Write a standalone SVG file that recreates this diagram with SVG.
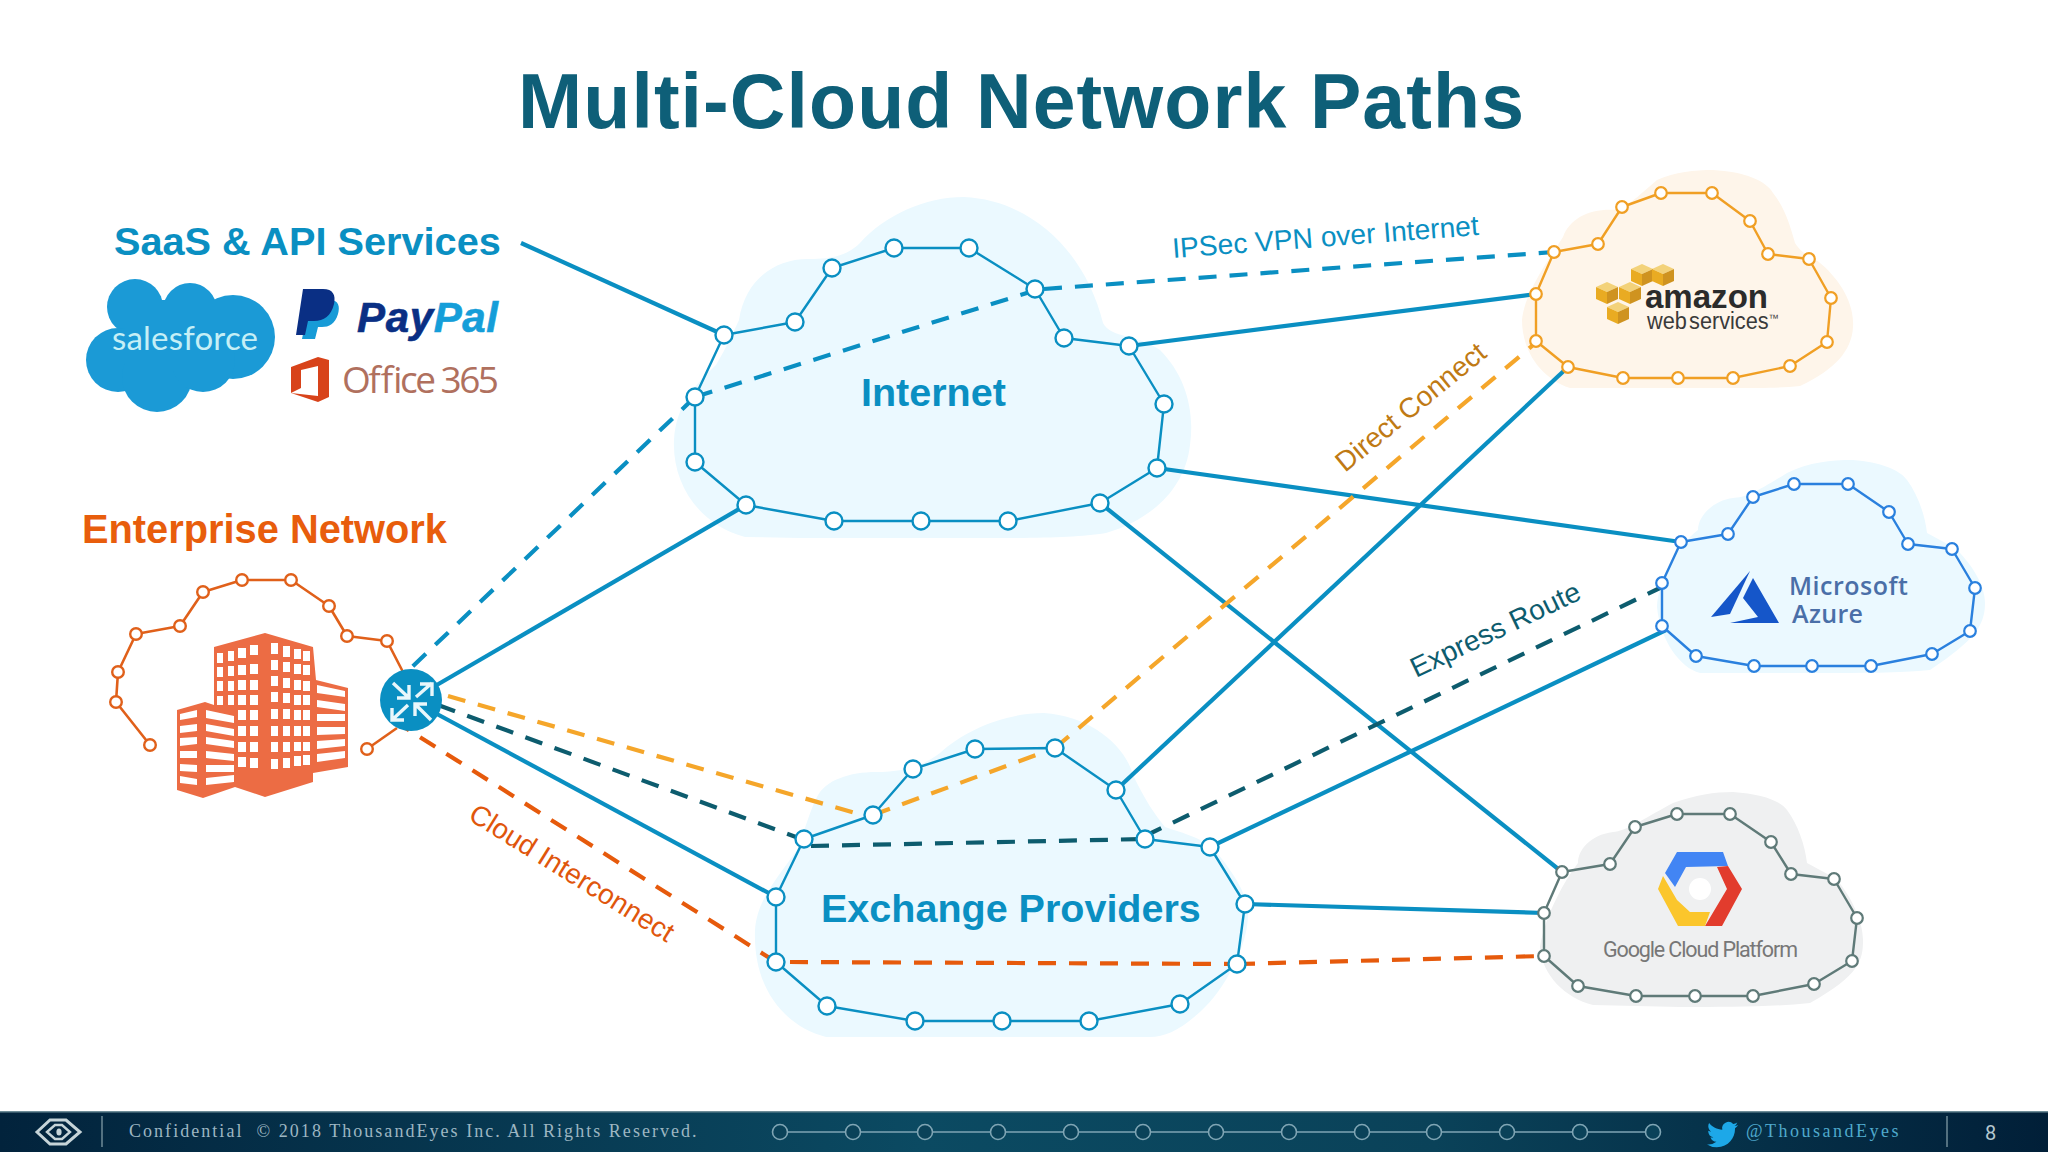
<svg xmlns="http://www.w3.org/2000/svg" width="2048" height="1152" viewBox="0 0 2048 1152">
<defs>
<style>
text{font-family:"Liberation Sans",Arial,sans-serif}
.b{font-weight:700}
.blue{fill:#0a8fc2}
.ring{fill:none;stroke-linejoin:round}
.c{fill:#fff}
.s{fill:none;stroke:#0a8fc2;stroke-width:4.2}
.d{fill:none;stroke-width:4.2;stroke-dasharray:18 13}
.db{stroke:#0a8fc2}.dt{stroke:#0d5c6e}.do{stroke:#f5a62a}.dr{stroke:#e65a0c}
.w{fill:#fff}
.arrow{fill:none;stroke:#e9f7fb;stroke-width:3.4}
.foot{font-family:"Liberation Serif",serif;font-size:18px;fill:#9db6c2;letter-spacing:1.4px}
.fn{fill:none;stroke:#7fa5b4;stroke-width:1.6}
</style>
<linearGradient id="fg" x1="0" x2="1" y1="0" y2="0">
<stop offset="0" stop-color="#02233c"/><stop offset=".45" stop-color="#0b4a62"/><stop offset=".7" stop-color="#0a4259"/><stop offset="1" stop-color="#011f38"/>
</linearGradient>
<g id="cube"><polygon points="-11,-6 0,-11 11,-6 0,-1" fill="#f3d27a"/><polygon points="-11,-6 0,-1 0,11 -11,6" fill="#e9ab22"/><polygon points="0,-1 11,-6 11,6 0,11" fill="#cf9320"/></g>
</defs>
<rect width="2048" height="1152" fill="#fff"/>

<g id="title"><text x="518" y="128" class="b" font-size="77" fill="#0e5f78" textLength="1006">Multi-Cloud Network Paths</text></g>

<g id="cloud-fills">
<path fill="#ebf9ff" d="M745 537C700 525 672 485 674 440C676 405 695 385 716 365C722 355 730 340 739 320C745 280 775 258 810 259C825 259 845 258 860 243C885 215 925 197 964 197C1030 200 1085 250 1103 323C1110 338 1140 335 1160 350C1185 375 1195 410 1190 445C1185 490 1150 520 1106 533C1080 537 1050 538 1000 538L800 538Z"/>
<path fill="#ebf9ff" d="M826 1037C781 1025 753 985 755 930C757 900 776 880 797 850C805 830 810 810 817 797C825 780 850 772 876 772C900 772 920 768 940 753C965 730 1005 713 1044 713C1090 716 1125 745 1133 775C1145 800 1155 815 1165 827C1190 835 1205 840 1215 850C1235 875 1248 895 1248 915C1248 945 1225 990 1200 1012C1180 1030 1165 1037 1150 1037Z"/>
<path fill="#fef5ea" d="M1570 388C1540 378 1522 350 1522 320C1524 295 1545 265 1563 237C1570 218 1590 208 1617 210C1630 205 1645 190 1657 180C1675 172 1695 170 1713 170C1745 172 1765 180 1773 193C1785 208 1790 225 1795 243C1805 258 1815 258 1820 263C1835 275 1855 300 1853 327C1852 350 1835 370 1800 386C1780 388 1760 388 1730 388Z"/>
<path fill="#ebf9ff" d="M1700 673C1680 668 1660 640 1657 607C1658 580 1678 545 1698 530C1698 515 1715 500 1733 498C1745 498 1760 490 1787 473C1810 462 1830 460 1853 460C1880 462 1900 470 1907 480C1918 495 1925 515 1927 533C1940 540 1950 545 1957 550C1972 565 1985 585 1985 603C1985 625 1975 640 1930 670C1900 673 1860 673 1820 673Z"/>
<path fill="#eff0f1" d="M1593 1005C1565 998 1542 975 1540 947C1545 915 1565 880 1578 863C1578 850 1590 835 1613 832C1625 832 1650 815 1673 803C1695 795 1715 792 1733 792C1760 794 1780 800 1787 810C1798 825 1805 845 1807 863C1820 870 1830 875 1837 880C1850 895 1863 920 1863 940C1863 960 1860 975 1810 1003C1770 1007 1730 1007 1680 1007Z"/>
</g>

<g id="connectors">
<line class="s" x1="521" y1="243" x2="724" y2="335"/>
<line class="s" x1="411" y1="700" x2="746" y2="505"/>
<line class="s" x1="411" y1="700" x2="776" y2="897"/>
<line class="s" x1="1129" y1="346" x2="1536" y2="294"/>
<line class="s" x1="1157" y1="468" x2="1681" y2="542"/>
<line class="s" x1="1100" y1="503" x2="1562" y2="872"/>
<line class="s" x1="1116" y1="790" x2="1568" y2="367"/>
<line class="s" x1="1210" y1="847" x2="1666" y2="630"/>
<line class="s" x1="1245" y1="904" x2="1544" y2="913"/>
<path class="d db" d="M695 397L411 668"/>
<path class="d db" d="M695 397L1030 292"/>
<path class="d db" d="M1044 289L1554 252"/>
<path class="d do" d="M448 696L873 818"/>
<path class="d do" d="M873 815L1055 748"/>
<path class="d do" d="M1055 748L1532 346"/>
<path class="d dt" d="M804 840L430 702"/>
<path class="d dt" d="M811 846L1145 839"/>
<path class="d dt" d="M1145 836L1662 587"/>
<path class="d dr" d="M776 962L404 727"/>
<path class="d dr" d="M790 962L1237 964"/>
<path class="d dr" d="M1237 964L1544 956"/>
</g>

<g id="saas">
<text x="114" y="255" class="b blue" font-size="39.7">SaaS &amp; API Services</text>
<g id="salesforce">
<g fill="#1b9ad6"><circle cx="135" cy="307" r="28"/><circle cx="190" cy="310" r="27"/><circle cx="233" cy="337" r="42"/><circle cx="118" cy="360" r="32"/><circle cx="157" cy="377" r="35"/><circle cx="203" cy="360" r="32"/><rect x="125" y="300" width="100" height="70"/></g>
<text x="112" y="350" font-size="33" fill="#c5eff6" textLength="146" style="font-family:Lato,sans-serif">salesforce</text>
</g>
<g id="paypal">
<path fill="#179bd7" d="M310 300h20c9 0 10 7 8 14c-3 10-9 13-16 13h-4l-3 12h-13z"/>
<path fill="#0a2f84" d="M303 289h20c10 0 13 6 11 15c-3 12-10 17-20 17h-6l-3 14h-9z"/>
<text x="357" y="332" class="b" font-size="42" font-style="italic" textLength="141" stroke="#0a2f84" stroke-width=".6"><tspan fill="#0a2f84">Pay</tspan><tspan fill="#159ed9" stroke="#159ed9">Pal</tspan></text>
</g>
<g id="office365">
<path fill="#d8431a" d="M291 367L318 357L329 360V397L318 402L291 393L318 396V366L301 370V388L291 393Z"/>
<text x="342" y="393" font-size="37" fill="#b0705e" textLength="157" style="font-family:'Open Sans',sans-serif">Office 365</text>
</g>
</g>

<g id="enterprise">
<text x="82" y="543" class="b" font-size="39.8" fill="#e85d0c">Enterprise Network</text>
<polyline class="ring" stroke="#e0601a" stroke-width="2.6" points="150,745 116,702 118,672 136,634 180,626 203,592 242,580 291,580 329,606 347,636 387,641 403,672"/>
<line x1="367" y1="749" x2="397" y2="728" stroke="#e0601a" stroke-width="2.6"/>
<g class="c" stroke="#e0601a" stroke-width="2.4"><circle cx="150" cy="745" r="5.8"/><circle cx="116" cy="702" r="5.8"/><circle cx="118" cy="672" r="5.8"/><circle cx="136" cy="634" r="5.8"/><circle cx="180" cy="626" r="5.8"/><circle cx="203" cy="592" r="5.8"/><circle cx="242" cy="580" r="5.8"/><circle cx="291" cy="580" r="5.8"/><circle cx="329" cy="606" r="5.8"/><circle cx="347" cy="636" r="5.8"/><circle cx="387" cy="641" r="5.8"/><circle cx="367" cy="749" r="5.8"/></g>
<g id="building">
<polygon fill="#ec6c44" points="214,647 265,633 313,647 316,680 348,688 348,767 313,773 313,782 265,797 235,787 203,798 177,790 177,710 205,702 214,705"/>
<path class="w" d="M217 653h6v10h-6zM228 651h6v10h-6zM238 648h8v10h-8zM250 645h8v10h-8zM217 667h6v10h-6zM228 666h6v10h-6zM238 665h8v10h-8zM250 664h8v10h-8zM217 681h6v10h-6zM228 681h6v10h-6zM238 680h8v10h-8zM250 680h8v10h-8zM217 696h6v9h-6zM228 695h6v10h-6zM238 695h8v10h-8zM250 695h8v10h-8zM238 710h8v10h-8zM250 710h8v10h-8zM238 726h8v10h-8zM250 726h8v10h-8zM238 742h8v10h-8zM250 742h8v10h-8zM238 757h8v10h-8zM250 758h8v10h-8zM271 643h7v11h-7zM283 646h7v11h-7zM294 649h7v10h-7zM303 651h7v10h-7zM271 660h7v10h-7zM283 662h7v10h-7zM294 664h7v10h-7zM303 665h7v10h-7zM271 676h7v10h-7zM283 678h7v10h-7zM294 680h7v10h-7zM303 681h7v10h-7zM271 692h7v10h-7zM283 693h7v10h-7zM294 695h7v10h-7zM303 695h7v10h-7zM271 709h7v10h-7zM283 709h7v10h-7zM294 710h7v10h-7zM303 710h7v10h-7zM271 726h7v10h-7zM283 726h7v10h-7zM294 726h7v10h-7zM303 726h7v10h-7zM271 742h7v10h-7zM283 742h7v10h-7zM294 742h7v9h-7zM303 742h7v9h-7zM271 759h7v10h-7zM283 758h7v10h-7zM294 756h7v10h-7zM303 755h7v10h-7z"/>
<path class="w" d="M317 685L345 691V697L317 693ZM317 700L345 704V711L317 707ZM317 714H345V721H317ZM317 727H345V734L317 735ZM317 741L345 739V746L317 749ZM317 754L345 751V758L317 762Z"/>
<path class="w" d="M180 714L197 710V717L180 720ZM206 710L234 716V723L206 718ZM180 726L197 724V731L180 733ZM206 724L234 729V736L206 731ZM180 738L197 737V744L180 746ZM206 737L234 741V748L206 744ZM180 751H197V758H180ZM206 751L234 754V761L206 758ZM180 764L197 765V772L180 771ZM206 765H234V772L206 772ZM180 776L197 779V785L180 783ZM206 778L234 775V782L206 785Z"/>
</g>
</g>

<g id="router">
<circle cx="411" cy="700" r="31" fill="#0a8fc2"/>
<path class="arrow" d="M393 683L409 698M397 698H409V685"/>
<path class="arrow" d="M416 697L432 683M420 684H432V696"/>
<path class="arrow" d="M408 705L392 720M392 708V720H404"/>
<path class="arrow" d="M431 720L415 704M415 716V704H427"/>
</g>

<g id="internet">
<polygon class="ring" stroke="#0a8fc2" stroke-width="2.4" points="724,335 795,322 832,268 894,248 969,248 1035,289 1064,338 1129,346 1164,404 1157,468 1100,503 1008,521 921,521 834,521 746,505 695,462 695,397"/>
<g class="c" stroke="#0a8fc2" stroke-width="2.4"><circle cx="724" cy="335" r="8.5"/><circle cx="795" cy="322" r="8.5"/><circle cx="832" cy="268" r="8.5"/><circle cx="894" cy="248" r="8.5"/><circle cx="969" cy="248" r="8.5"/><circle cx="1035" cy="289" r="8.5"/><circle cx="1064" cy="338" r="8.5"/><circle cx="1129" cy="346" r="8.5"/><circle cx="1164" cy="404" r="8.5"/><circle cx="1157" cy="468" r="8.5"/><circle cx="1100" cy="503" r="8.5"/><circle cx="1008" cy="521" r="8.5"/><circle cx="921" cy="521" r="8.5"/><circle cx="834" cy="521" r="8.5"/><circle cx="746" cy="505" r="8.5"/><circle cx="695" cy="462" r="8.5"/><circle cx="695" cy="397" r="8.5"/></g>
<text x="861" y="406" class="b blue" font-size="39.5">Internet</text>
</g>

<g id="exchange">
<polygon class="ring" stroke="#0a8fc2" stroke-width="2.4" points="804,839 873,815 913,769 975,749 1055,748 1116,790 1145,839 1210,847 1245,904 1237,964 1180,1004 1089,1021 1002,1021 915,1021 827,1006 776,962 776,897"/>
<g class="c" stroke="#0a8fc2" stroke-width="2.4"><circle cx="804" cy="839" r="8.5"/><circle cx="873" cy="815" r="8.5"/><circle cx="913" cy="769" r="8.5"/><circle cx="975" cy="749" r="8.5"/><circle cx="1055" cy="748" r="8.5"/><circle cx="1116" cy="790" r="8.5"/><circle cx="1145" cy="839" r="8.5"/><circle cx="1210" cy="847" r="8.5"/><circle cx="1245" cy="904" r="8.5"/><circle cx="1237" cy="964" r="8.5"/><circle cx="1180" cy="1004" r="8.5"/><circle cx="1089" cy="1021" r="8.5"/><circle cx="1002" cy="1021" r="8.5"/><circle cx="915" cy="1021" r="8.5"/><circle cx="827" cy="1006" r="8.5"/><circle cx="776" cy="962" r="8.5"/><circle cx="776" cy="897" r="8.5"/></g>
<text x="821" y="922" class="b blue" font-size="39.5">Exchange Providers</text>
</g>

<g id="aws">
<polygon class="ring" stroke="#f09f24" stroke-width="2.4" points="1554,252 1598,244 1622,207 1661,193 1712,193 1750,221 1768,254 1809,259 1831,298 1827,342 1790,366 1733,378 1678,378 1623,378 1568,367 1536,341 1536,294"/>
<g class="c" stroke="#f09f24" stroke-width="2.2"><circle cx="1554" cy="252" r="5.8"/><circle cx="1598" cy="244" r="5.8"/><circle cx="1622" cy="207" r="5.8"/><circle cx="1661" cy="193" r="5.8"/><circle cx="1712" cy="193" r="5.8"/><circle cx="1750" cy="221" r="5.8"/><circle cx="1768" cy="254" r="5.8"/><circle cx="1809" cy="259" r="5.8"/><circle cx="1831" cy="298" r="5.8"/><circle cx="1827" cy="342" r="5.8"/><circle cx="1790" cy="366" r="5.8"/><circle cx="1733" cy="378" r="5.8"/><circle cx="1678" cy="378" r="5.8"/><circle cx="1623" cy="378" r="5.8"/><circle cx="1568" cy="367" r="5.8"/><circle cx="1536" cy="341" r="5.8"/><circle cx="1536" cy="294" r="5.8"/></g>
<use href="#cube" x="1642" y="275"/><use href="#cube" x="1663" y="275"/><use href="#cube" x="1607" y="293"/><use href="#cube" x="1630" y="293"/><use href="#cube" x="1618" y="313"/>
<text x="1645" y="308" class="b" font-size="34" fill="#2b2b2b" textLength="123" lengthAdjust="spacingAndGlyphs">amazon</text>
<text x="1647" y="329" font-size="23" fill="#3a3a3a" textLength="132" lengthAdjust="spacingAndGlyphs" word-spacing="-4">web services<tspan font-size="11" dy="-7">™</tspan></text>
</g>

<g id="azure">
<polygon class="ring" stroke="#2a80de" stroke-width="2.4" points="1681,542 1728,534 1753,497 1794,484 1848,484 1889,512 1908,544 1952,549 1975,588 1970,631 1932,654 1871,666 1812,666 1754,666 1696,656 1662,626 1662,583"/>
<g class="c" stroke="#2a80de" stroke-width="2.2"><circle cx="1681" cy="542" r="5.8"/><circle cx="1728" cy="534" r="5.8"/><circle cx="1753" cy="497" r="5.8"/><circle cx="1794" cy="484" r="5.8"/><circle cx="1848" cy="484" r="5.8"/><circle cx="1889" cy="512" r="5.8"/><circle cx="1908" cy="544" r="5.8"/><circle cx="1952" cy="549" r="5.8"/><circle cx="1975" cy="588" r="5.8"/><circle cx="1970" cy="631" r="5.8"/><circle cx="1932" cy="654" r="5.8"/><circle cx="1871" cy="666" r="5.8"/><circle cx="1812" cy="666" r="5.8"/><circle cx="1754" cy="666" r="5.8"/><circle cx="1696" cy="656" r="5.8"/><circle cx="1662" cy="626" r="5.8"/><circle cx="1662" cy="583" r="5.8"/></g>
<polygon fill="#1556c9" points="1750,571 1711,617 1730,614"/>
<polygon fill="#1556c9" points="1753,578 1779,623 1730,623 1758,617 1743,598"/>
<text x="1789" y="595" font-size="25" font-weight="600" fill="#4a6fa8" textLength="119" style="font-family:'Open Sans',sans-serif">Microsoft</text>
<text x="1792" y="623" font-size="25" font-weight="600" fill="#4a6fa8" textLength="71" style="font-family:'Open Sans',sans-serif">Azure</text>
</g>

<g id="gcp">
<polygon class="ring" stroke="#5f7a78" stroke-width="2.4" points="1562,872 1610,864 1635,827 1677,814 1730,814 1771,842 1791,874 1834,879 1857,918 1852,961 1814,984 1753,996 1695,996 1636,996 1578,986 1544,956 1544,913"/>
<g class="c" stroke="#5f7a78" stroke-width="2.2"><circle cx="1562" cy="872" r="5.8"/><circle cx="1610" cy="864" r="5.8"/><circle cx="1635" cy="827" r="5.8"/><circle cx="1677" cy="814" r="5.8"/><circle cx="1730" cy="814" r="5.8"/><circle cx="1771" cy="842" r="5.8"/><circle cx="1791" cy="874" r="5.8"/><circle cx="1834" cy="879" r="5.8"/><circle cx="1857" cy="918" r="5.8"/><circle cx="1852" cy="961" r="5.8"/><circle cx="1814" cy="984" r="5.8"/><circle cx="1753" cy="996" r="5.8"/><circle cx="1695" cy="996" r="5.8"/><circle cx="1636" cy="996" r="5.8"/><circle cx="1578" cy="986" r="5.8"/><circle cx="1544" cy="956" r="5.8"/><circle cx="1544" cy="913" r="5.8"/></g>
<polygon fill="#4285f4" points="1677,852 1723,852 1728,866 1686,867 1675,887 1665,873"/>
<polygon fill="#e23c2d" points="1717,867 1728,866 1742,889 1722,926 1705,926 1727,889"/>
<polygon fill="#fbc62c" points="1663,876 1677,900 1690,912 1710,912 1705,926 1678,926 1658,889"/>
<circle cx="1700" cy="889" r="11" fill="#fff"/>
<text x="1603" y="957" font-size="21.5" fill="#777" textLength="195" style="font-family:Roboto,sans-serif">Google Cloud Platform</text>
</g>

<g id="labels">
<text transform="translate(1173 258) rotate(-4.3)" font-size="28.2" class="blue">IPSec VPN over Internet</text>
<text transform="translate(1345 473) rotate(-39.3)" font-size="28" fill="#bf7a14">Direct Connect</text>
<text transform="translate(1416 678) rotate(-25.5)" font-size="28.2" fill="#0d5c6e">Express Route</text>
<text transform="translate(467 819) rotate(31.8)" font-size="28" fill="#e0560c">Cloud Interconnect</text>
</g>

<g id="footer">
<rect y="1112" width="2048" height="40" fill="url(#fg)"/>
<rect y="1111" width="2048" height="1.5" fill="#6d8c97"/>
<polygon points="37,1132 50,1120 66,1120 80,1132 66,1144 50,1144" fill="none" stroke="#c6d4d8" stroke-width="3"/>
<polygon points="47,1132 55,1125 62,1125 70,1132 62,1139 55,1139" fill="none" stroke="#c6d4d8" stroke-width="2.4"/>
<ellipse cx="59" cy="1132" rx="2.6" ry="3.6" fill="#c6d4d8"/>
<line x1="102" y1="1116" x2="102" y2="1147" stroke="#8aa4ae" stroke-width="1.2"/>
<text x="129" y="1137" class="foot" textLength="569" xml:space="preserve">Confidential  © 2018 ThousandEyes Inc. All Rights Reserved.</text>
<line class="fn" x1="780" y1="1132" x2="1653" y2="1132"/>
<g fill="#0a4259" stroke="#7fa5b4" stroke-width="1.6"><circle cx="780" cy="1132" r="7.5"/><circle cx="853" cy="1132" r="7.5"/><circle cx="925" cy="1132" r="7.5"/><circle cx="998" cy="1132" r="7.5"/><circle cx="1071" cy="1132" r="7.5"/><circle cx="1143" cy="1132" r="7.5"/><circle cx="1216" cy="1132" r="7.5"/><circle cx="1289" cy="1132" r="7.5"/><circle cx="1362" cy="1132" r="7.5"/><circle cx="1434" cy="1132" r="7.5"/><circle cx="1507" cy="1132" r="7.5"/><circle cx="1580" cy="1132" r="7.5"/><circle cx="1653" cy="1132" r="7.5"/></g>
<path transform="translate(1707 1119) scale(1.3)" fill="#1da8e8" d="M23.953 4.57a10 10 0 01-2.825.775 4.958 4.958 0 002.163-2.723c-.951.555-2.005.959-3.127 1.184a4.92 4.92 0 00-8.384 4.482C7.69 8.095 4.067 6.13 1.64 3.162a4.822 4.822 0 00-.666 2.475c0 1.71.87 3.213 2.188 4.096a4.904 4.904 0 01-2.228-.616v.06a4.923 4.923 0 003.946 4.827 4.996 4.996 0 01-2.212.085 4.936 4.936 0 004.604 3.417 9.867 9.867 0 01-6.102 2.105c-.39 0-.779-.023-1.17-.067a13.995 13.995 0 007.557 2.209c9.053 0 13.998-7.496 13.998-13.985 0-.21 0-.42-.015-.63A9.935 9.935 0 0024 4.59z"/>
<text x="1746" y="1137" class="foot" textLength="154" style="fill:#4fa9cc">@ThousandEyes</text>
<line x1="1947" y1="1116" x2="1947" y2="1147" stroke="#8aa4ae" stroke-width="1.2"/>
<text x="1985" y="1140" font-size="20" fill="#b4c7cf" style="font-family:Roboto,sans-serif">8</text>
</g>
</svg>
